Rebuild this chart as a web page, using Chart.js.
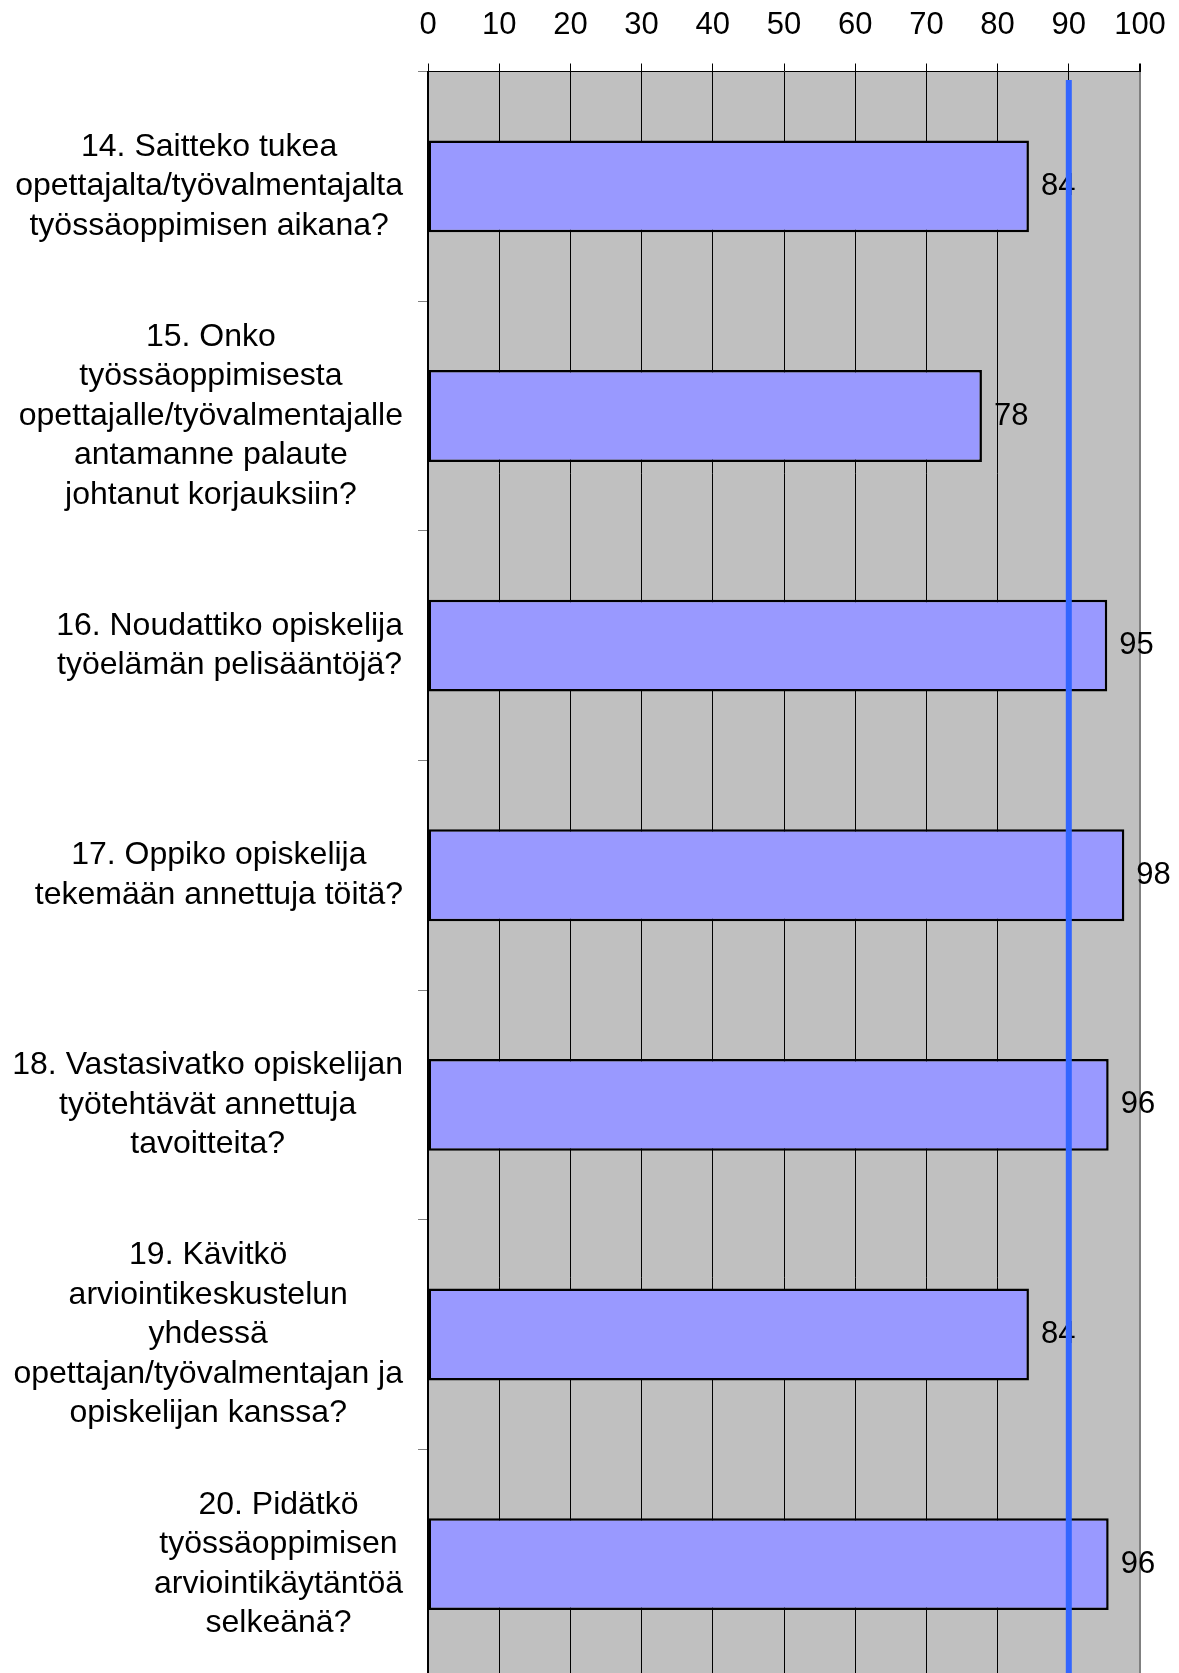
<!DOCTYPE html>
<html>
<head>
<meta charset="utf-8">
<script src="https://cdn.jsdelivr.net/npm/chart.js@4.4.1/dist/chart.umd.min.js"></script>
<style>
  html, body { margin: 0; padding: 0; background: #fff; overflow: hidden; }
  canvas { display: block; }
</style>
</head>
<body>
<canvas id="chart" width="1179" height="1679"></canvas>
<script>
// Kysymykset rivitettyinä kuten alkuperäisessä kuvassa
const questions = [
  ['14. Saitteko tukea', 'opettajalta/työvalmentajalta', 'työssäoppimisen aikana?'],
  ['15. Onko', 'työssäoppimisesta', 'opettajalle/työvalmentajalle', 'antamanne palaute', 'johtanut korjauksiin?'],
  ['16. Noudattiko opiskelija', 'työelämän pelisääntöjä?'],
  ['17. Oppiko opiskelija', 'tekemään annettuja töitä?'],
  ['18. Vastasivatko opiskelijan', 'työtehtävät annettuja', 'tavoitteita?'],
  ['19. Kävitkö', 'arviointikeskustelun', 'yhdessä', 'opettajan/työvalmentajan ja', 'opiskelijan kanssa?'],
  ['20. Pidätkö', 'työssäoppimisen', 'arviointikäytäntöä', 'selkeänä?']
];
const values = [84.4, 77.8, 95.4, 97.8, 95.6, 84.4, 95.6];
const xTicks = [0, 10, 20, 30, 40, 50, 60, 70, 80, 90, 100];
const target = 90;

const FONT = '"Liberation Sans", Arial, sans-serif';

// harmaa tausta piirtoalueelle
const plotBackground = {
  id: 'plotBackground',
  beforeDraw(chart) {
    const { ctx, chartArea: a } = chart;
    ctx.save();
    ctx.fillStyle = '#C0C0C0';
    ctx.fillRect(a.left, a.top, a.right - a.left, a.bottom - a.top);
    ctx.restore();
  }
};

// kategoriat: rivit keskitetty, lohko tasattu akselia vasten
const categoryLabels = {
  id: 'categoryLabels',
  afterDraw(chart) {
    const y = chart.scales.y;
    const ctx = chart.ctx;
    ctx.save();
    ctx.font = '32px ' + FONT;
    ctx.fillStyle = '#000';
    ctx.textAlign = 'center';
    ctx.textBaseline = 'middle';
    const lh = 39.5;
    const right = y.right - 25;
    questions.forEach((lines, i) => {
      const w = Math.max(...lines.map(l => ctx.measureText(l).width));
      const cx = right - w / 2;
      const cy = y.getPixelForTick(i);
      lines.forEach((l, j) => {
        ctx.fillText(l, cx, cy + (j - (lines.length - 1) / 2) * lh);
      });
    });
    ctx.restore();
  }
};

// arvot palkkien perään
const valueLabels = {
  id: 'valueLabels',
  afterDatasetsDraw(chart) {
    const ctx = chart.ctx;
    const meta = chart.getDatasetMeta(0);
    ctx.save();
    ctx.font = '31px ' + FONT;
    ctx.fillStyle = '#000';
    ctx.textAlign = 'left';
    ctx.textBaseline = 'middle';
    meta.data.forEach((bar, i) => {
      ctx.fillText(String(Math.round(values[i])), bar.x + 12, bar.y);
    });
    ctx.restore();
  }
};

// tavoiteviiva (90)
const targetLine = {
  id: 'targetLine',
  afterDraw(chart) {
    const { ctx, chartArea: a } = chart;
    const x = chart.scales.x.getPixelForValue(target);
    ctx.save();
    ctx.strokeStyle = '#3366FF';
    ctx.lineWidth = 6;
    ctx.beginPath();
    ctx.moveTo(x, a.top + 8.5);
    ctx.lineTo(x, a.bottom);
    ctx.stroke();
    ctx.restore();
  }
};

const chart = new Chart(document.getElementById('chart'), {
  type: 'bar',
  data: {
    labels: questions,
    datasets: [{
      data: values,
      backgroundColor: '#9999FF',
      borderColor: '#000',
      borderWidth: 2.5,
      borderSkipped: false,
      barPercentage: 0.4,
      categoryPercentage: 1
    }]
  },
  options: {
    indexAxis: 'y',
    responsive: false,
    animation: false,
    layout: { padding: { left: 0, right: 39, top: 0, bottom: 0 } },
    plugins: {
      legend: { display: false },
      tooltip: { enabled: false }
    },
    scales: {
      x: {
        position: 'top',
        min: 0,
        max: 100,
        afterBuildTicks: s => { s.ticks = xTicks.map(v => ({ value: v })); },
        afterFit: s => {
          s.height = 71.5;
          s.paddingLeft = 0;
          s.paddingRight = 0;
        },
        grid: {
          color: c => (c.tick && c.tick.value === 100 ? '#808080' : '#000'),
          lineWidth: c => (c.tick && c.tick.value === 100 ? 2 : 1),
          tickColor: '#000',
          tickLength: 8
        },
        border: { color: '#000', width: 1 },
        ticks: {
          color: '#000',
          font: { family: FONT, size: 31 },
          padding: 19,
          maxRotation: 0
        }
      },
      y: {
        afterFit: s => { s.width = 428; },
        grid: {
          drawOnChartArea: false,
          tickLength: 10,
          color: '#808080'
        },
        border: { color: '#000', width: 2 },
        ticks: { display: false }
      }
    }
  },
  plugins: [plotBackground, categoryLabels, valueLabels, targetLine]
});
</script>
</body>
</html>
